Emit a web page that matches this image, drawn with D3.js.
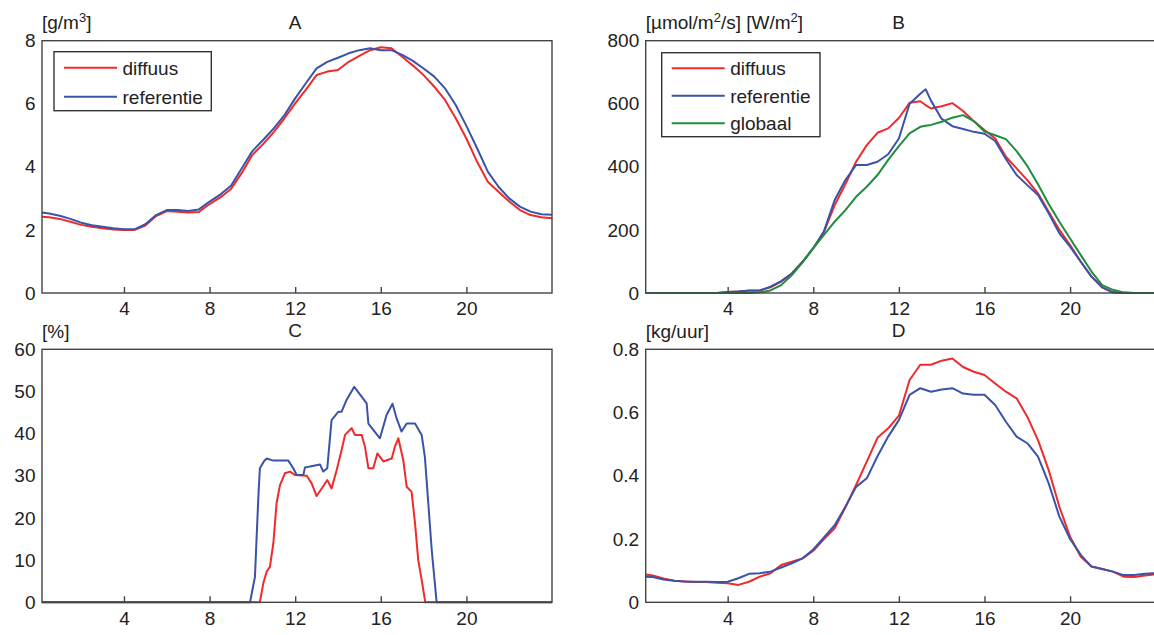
<!DOCTYPE html>
<html>
<head>
<meta charset="utf-8">
<script src="https://cdn.jsdelivr.net/npm/d3@7"></script>
<style>
html,body{margin:0;padding:0;background:#fff;overflow:hidden}
svg text{font-family:"Liberation Sans",Arial,sans-serif;fill:#222}
</style>
</head>
<body>
<svg id="chart" width="1154" height="635"></svg>
<script>
// ---------- data ----------
const xTicks = [4, 8, 12, 16, 20];
const hoursHalf = [0.17,0.5,1,1.5,2,2.5,3,3.5,4,4.5,5,5.5,6,6.5,7,7.5,8,8.5,9,9.5,10,10.5,11,11.5,12,12.5,13,13.5,14,14.5,15,15.5,16,16.5,17,17.5,18,18.5,19,19.5,20,20.5,21,21.5,22,22.5,23,23.5,24];

// Panel A [g/m3]
const aTicks = [0, 2, 4, 6, 8];
const aDiffuus = [2.42,2.40,2.35,2.26,2.16,2.10,2.05,2.01,2.00,2.00, 2.14,2.44,2.60,2.58,2.55,2.57,2.82,3.03,3.30,3.80, 4.38,4.72,5.10,5.54,6.01,6.45,6.91,7.02,7.07,7.33, 7.52,7.70,7.79,7.76,7.49,7.21,6.91,6.54,6.12,5.54, 4.90,4.16,3.53,3.21,2.90,2.63,2.47,2.40,2.37];
const aReferentie = [2.55,2.52,2.45,2.35,2.23,2.15,2.10,2.05,2.02,2.02, 2.18,2.47,2.63,2.63,2.60,2.65,2.90,3.12,3.40,3.95, 4.50,4.85,5.22,5.64,6.17,6.65,7.12,7.33,7.46,7.60, 7.70,7.76,7.70,7.70,7.55,7.36,7.12,6.86,6.49,5.96, 5.30,4.59,3.85,3.37,3.00,2.74,2.58,2.50,2.48];

// Panel B [umol/m2/s] [W/m2]
const bTicks = [0, 200, 400, 600, 800];
const hoursB = [0.17,0.5,1,1.5,2,2.5,3,3.5,4,4.5,5,5.5,6,6.5,7,7.5,8,8.5,9,9.5,10,10.5,11,11.5,12,12.5,13,13.25,13.5,14,14.5,15,15.5,16,16.5,17,17.5,18,18.5,19,19.5,20,20.5,21,21.5,22,22.5,23,23.5,24];
const bDiffuus = [0,0,0,0,0,0,0,0, 3,5,7,8,18,36,62,99,142,194, 279,345,416,469,508,522,555,603,608,596, 585,592,602,577,545,517,490,432,395,358, 316,258,200,152,99,52,18,2,0,0, 0,0];
const bReferentie = [0,0,0,0,0,0,0,0, 3,5,8,8,20,38,62,99,142,196, 295,358,406,406,416,440,490,600,632,646, 610,552,529,520,511,505,482,425,374,342, 311,253,189,147,99,52,18,2,0,0, 0,0];
const bGlobaal = [0,0,0,0,0,0,0,0, 0,0,0,2,8,25,57,97,142,184, 226,263,305,337,374,422,466,506,527,530, 533,543,556,564,545,512,500,488,450,403, 345,282,226,173,120,68,25,10,2,0, 0,0];

// Panel C [%]
const cTicks = [0, 10, 20, 30, 40, 50, 60];
const cDiffuusHours = [0.17,10.35,10.51,10.67,10.82,10.98,11.13,11.29,11.52,11.76, 11.99,12.54,12.77,13.0,13.24,13.5,13.7,13.94,14.17,14.33, 14.64,14.79,15.11,15.26,15.42,15.65,15.84,16.12,16.51,16.66, 16.82,17.05,17.21,17.44,17.6,17.75,17.91,18.08,24];
const cDiffuus = [0,0,4.5,7.3,8.4,14,23.5,27.8,30.6,31, 30.2,30,28.2,25.2,27,29,27,31.4,36.1,39.7, 41.3,39.7,39.7,36.9,31.8,31.8,35.3,33.4,34.1,36.9, 38.9,33.7,27.4,26.2,18.7,10,5.3,0,0];
const cReferentieHours = [0.17,9.89,10.12,10.2,10.28,10.35,10.55,10.67,10.98,11.68, 11.91,12.07,12.38,12.46,12.69,13.16,13.31,13.5,13.7,14.02, 14.17,14.4,14.76,15.34,15.42,15.96,16.27,16.55,16.74,16.97, 17.21,17.6,17.91,18.06,18.22,18.38,18.61,24];
const cReferentie = [0,0,6,15.6,25,31.8,33.5,34.1,33.6,33.6, 31.8,30.2,30.2,32,32.2,32.7,31,31.8,43.2,45.2, 45.2,48,51.1,47.2,42.4,38.9,44.4,47.1,43.6,40.5, 42.4,42.4,39.7,34.5,23.5,12.4,0,0];

// Panel D [kg/uur]
const dTicks = [0, 0.2, 0.4, 0.6, 0.8];
const dDiffuus = [0.088,0.085,0.075,0.068,0.066,0.064,0.064,0.062,0.060,0.055, 0.065,0.081,0.092,0.118,0.128,0.139,0.163,0.200,0.234,0.300, 0.371,0.445,0.520,0.550,0.590,0.703,0.751,0.751,0.764,0.771, 0.744,0.729,0.719,0.692,0.666,0.645,0.587,0.513,0.418,0.302, 0.207,0.144,0.113,0.105,0.097,0.081,0.080,0.085,0.088];
const dReferentie = [0.081,0.080,0.072,0.068,0.066,0.065,0.065,0.064,0.065,0.076, 0.090,0.092,0.097,0.110,0.123,0.139,0.167,0.205,0.244,0.302, 0.365,0.392,0.462,0.524,0.576,0.656,0.677,0.666,0.673,0.677, 0.660,0.656,0.656,0.624,0.571,0.524,0.503,0.461,0.376,0.271, 0.200,0.150,0.113,0.105,0.097,0.086,0.086,0.090,0.092];

const seriesNames = ["diffuus", "referentie", "globaal"];
const colors = {diffuus: "#f02a2a", referentie: "#3a52a8", globaal: "#1f8c3e"};

// ---------- drawing ----------
const svg = d3.select("#chart");
const FONT = 19;
const W = 510;

function zip(xs, ys) { return xs.map((x, i) => [x, ys[i]]); }

function unitLabel(g, parts) {
  const t = g.append("text").attr("font-size", FONT);
  parts.forEach(p => {
    if (p.sup) {
      t.append("tspan").attr("dy", -7).attr("font-size", 13).text(p.t);
    } else {
      t.append("tspan").attr("dy", p.after ? 7 : 0).text(p.t);
    }
  });
  return t;
}

function panel(cfg) {
  const {x0, y0, h, yDomain, yTicks, fmt, title, unit, lines, legend} = cfg;
  const x = d3.scaleLinear().domain([0.17, 24]).range([x0, x0 + W]);
  const y = d3.scaleLinear().domain(yDomain).range([y0 + h, y0]);
  const g = svg.append("g");

  // lines
  const line = d3.line().x(d => x(d[0])).y(d => y(d[1]));
  lines.forEach(l => {
    g.append("path").datum(zip(l.xs, l.ys))
      .attr("d", line).attr("fill", "none")
      .attr("stroke", colors[l.name]).attr("stroke-width", 2)
      .attr("stroke-linejoin", "round");
  });

  // frame
  g.append("rect").attr("x", x0).attr("y", y0).attr("width", W).attr("height", h)
    .attr("fill", "none").attr("stroke", "#444").attr("stroke-width", 1.4);

  // x axis ticks (inside) and labels
  const xa = g.append("g").attr("transform", `translate(0,${y0 + h})`)
    .call(d3.axisBottom(x).tickValues(xTicks).tickSizeInner(-6).tickSizeOuter(0).tickPadding(9));
  xa.select(".domain").remove();
  xa.selectAll(".tick line").attr("stroke", "#444").attr("stroke-width", 1.4);
  xa.selectAll(".tick text").attr("font-size", FONT).attr("fill", "#222")
    .attr("font-family", "Liberation Sans, Arial, sans-serif");

  // y axis labels
  const ya = g.append("g").attr("transform", `translate(${x0},0)`)
    .call(d3.axisLeft(y).tickValues(yTicks).tickFormat(fmt).tickSizeInner(0).tickSizeOuter(0).tickPadding(6.5));
  ya.select(".domain").remove();
  ya.selectAll(".tick text").attr("font-size", FONT).attr("fill", "#222")
    .attr("font-family", "Liberation Sans, Arial, sans-serif");

  // title
  g.append("text").attr("x", x0 + W / 2 - 2).attr("y", y0 - 12.2)
    .attr("text-anchor", "middle").attr("font-size", FONT).text(title);

  // unit
  unitLabel(g, unit).attr("x", x0).attr("y", y0 - 11.5);

  // legend
  if (legend) {
    const lg = g.append("g");
    lg.append("rect").attr("x", legend.x).attr("y", legend.y)
      .attr("width", legend.w).attr("height", legend.h)
      .attr("fill", "#fff").attr("stroke", "#333").attr("stroke-width", 1.4);
    legend.names.forEach((n, i) => {
      const ly = legend.y + legend.first + i * legend.step;
      lg.append("line").attr("x1", legend.x + 10).attr("x2", legend.x + 63)
        .attr("y1", ly).attr("y2", ly)
        .attr("stroke", colors[n]).attr("stroke-width", 2);
      lg.append("text").attr("x", legend.x + 68.5).attr("y", ly + 7)
        .attr("font-size", FONT).text(n);
    });
  }
}

panel({
  x0: 42, y0: 40.7, h: 252.3, yDomain: [0, 8], yTicks: aTicks, fmt: d3.format("d"),
  title: "A",
  unit: [{t: "[g/m"}, {t: "3", sup: true}, {t: "]", after: true}],
  lines: [
    {name: "diffuus", xs: hoursHalf, ys: aDiffuus},
    {name: "referentie", xs: hoursHalf, ys: aReferentie}
  ],
  legend: {x: 54, y: 51.7, w: 157.3, h: 59, first: 16, step: 29, names: seriesNames.slice(0, 2)}
});

panel({
  x0: 645.7, y0: 40.7, h: 252.3, yDomain: [0, 800], yTicks: bTicks, fmt: d3.format("d"),
  title: "B",
  unit: [{t: "[\u00b5mol/m"}, {t: "2", sup: true}, {t: "/s] [W/m", after: true}, {t: "2", sup: true}, {t: "]", after: true}],
  lines: [
    {name: "diffuus", xs: hoursB, ys: bDiffuus},
    {name: "referentie", xs: hoursB, ys: bReferentie},
    {name: "globaal", xs: hoursB, ys: bGlobaal}
  ],
  legend: {x: 661.7, y: 52.7, w: 158.3, h: 84, first: 15.6, step: 27.5, names: seriesNames}
});

panel({
  x0: 42, y0: 349.3, h: 253, yDomain: [0, 60], yTicks: cTicks, fmt: d3.format("d"),
  title: "C",
  unit: [{t: "[%]"}],
  lines: [
    {name: "diffuus", xs: cDiffuusHours, ys: cDiffuus},
    {name: "referentie", xs: cReferentieHours, ys: cReferentie}
  ]
});

panel({
  x0: 645.7, y0: 349.3, h: 253, yDomain: [0, 0.8], yTicks: dTicks, fmt: d => d === 0 ? "0" : d3.format(".1f")(d),
  title: "D",
  unit: [{t: "[kg/uur]"}],
  lines: [
    {name: "diffuus", xs: hoursHalf, ys: dDiffuus},
    {name: "referentie", xs: hoursHalf, ys: dReferentie}
  ]
});
</script>
</body>
</html>
